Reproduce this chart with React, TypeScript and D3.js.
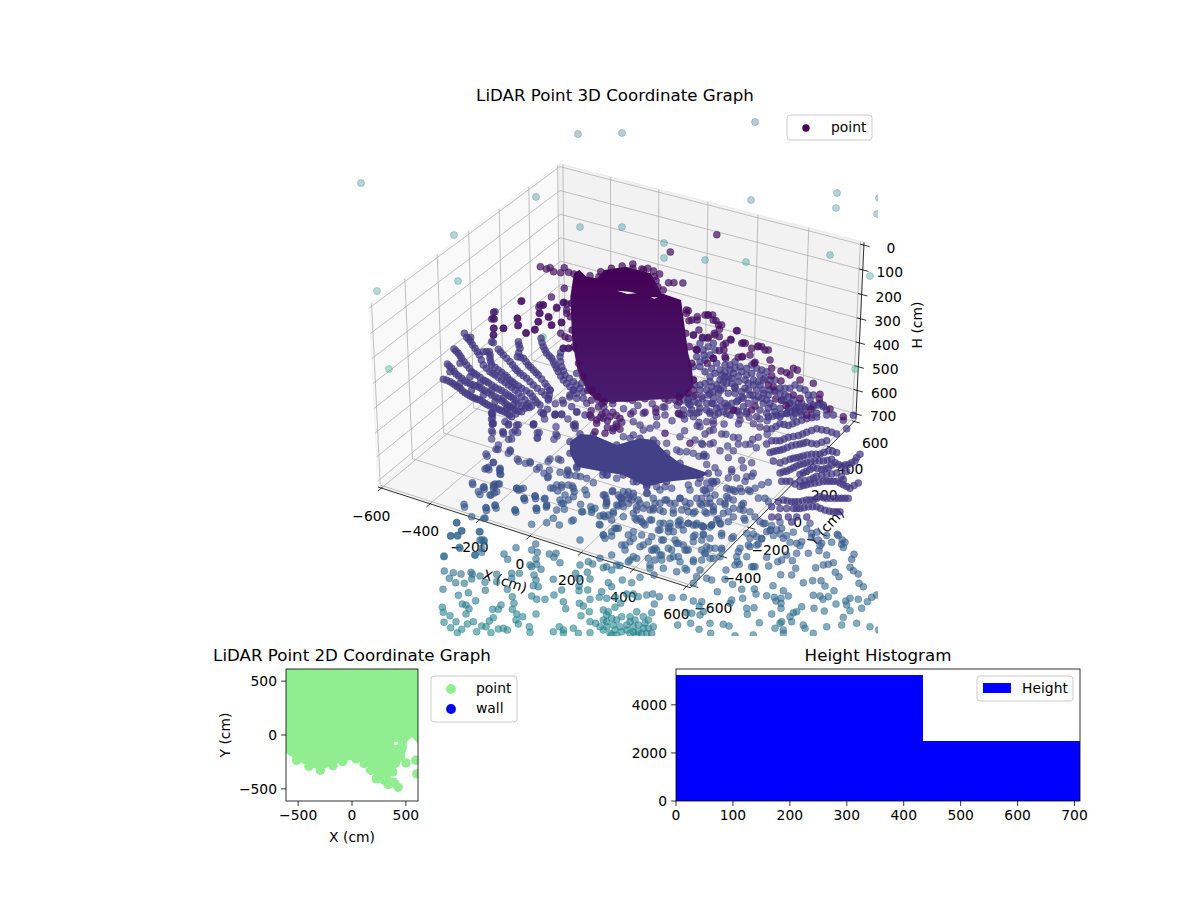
import React from "react";
import * as d3 from "d3";

// ---------- chart values ----------
const title3D = "LiDAR Point 3D Coordinate Graph";
const title2D = "LiDAR Point 2D Coordinate Graph";
const titleHist = "Height Histogram";
const xTicks3D = [-600, -400, -200, 0, 200, 400, 600];
const yTicks3D = [-600, -400, -200, 0, 200, 400, 600];
const hTicks3D = [0, 100, 200, 300, 400, 500, 600, 700];
const ticks2D = [-500, 0, 500];
const histEdges = [0, 434, 710];
const histCounts = [5240, 2495];
const histXTicks = [0, 100, 200, 300, 400, 500, 600, 700];
const histYTicks = [0, 2000, 4000];

// 2D scatter: the envelope of the plotted points (cm)
const envelope2D: [number, number][] = [[-613,613],[613,613],[613,-80],[557,-22],[511,-59],[501,-151],[465,-213],[440,-290],[400,-310],[358,-383],[390,-440],[428,-485],[336,-460],[300,-440],[226,-407],[174,-327],[113,-265],[37,-222],[-86,-247],[-177,-284],[-294,-327],[-400,-290],[-514,-235],[-613,-167]];
const lumps2D: [number, number][] = [[-514,-235],[-400,-290],[-294,-327],[-177,-284],[-86,-247],[37,-222],[113,-265],[174,-327],[226,-407],[336,-460],[428,-485],[379,-343],[501,-259],[593,-235],[602,-361],[450,-198],[465,-120],[300,-420],[390,-440]];
const gap2D: [number, number][] = [[392,-70],[425,-60],[430,-85],[395,-95]];

const farPts: [number, number][] = [[578,134],[622,133],[755,122],[361,183],[536,197],[751,200],[837,193],[836,208],[879,198],[877,214],[454,235],[580,227],[622,227],[664,243],[664,258],[705,260],[746,262],[830,255],[870,276],[377,291],[458,281],[389,369],[855,369],[543,337]];
const blobOutline: [number, number][] = [[645,590],[650,720],[665,810],[695,880],[728,906],[800,905],[860,900],[960,895],[990,860],[985,800],[975,760],[965,680],[955,600],[900,580],[870,520],[800,500],[740,510],[720,535],[690,530],[670,510],[655,520]];
const blobGaps: [number, number][][] = [[[775,572],[810,575],[830,580],[805,582]],[[870,592],[890,592],[880,596]]];
const blobEdgePts: [number, number][] = [[648,610],[645,650],[650,690],[655,740],[668,790],[680,830],[705,870],[720,890],[740,905],[970,640],[968,700],[978,740],[985,790],[990,840],[975,880],[950,890],[730,515],[760,505],[790,498],[820,505],[850,510],[880,530],[890,560]];
const blobTopPts: [number, number][] = [[1055,404],[925,456],[561,500],[588,503],[578,507],[598,515],[618,518],[628,503],[640,517],[655,522],[700,527],[725,530],[820,492],[845,507],[862,505],[878,513],[895,522],[885,542],[920,548],[935,548],[960,549],[905,570],[628,565],[592,591],[507,604],[568,615],[557,622],[558,640],[607,625],[627,607],[635,612],[585,652],[620,667],[497,655],[498,677],[555,665],[592,676],[545,690],[521,698],[458,685],[430,637],[425,657],[432,657],[430,685],[430,705],[635,640],[618,700],[630,710],[640,715],[625,745],[640,745],[660,745],[970,630],[985,660],[1000,660],[1030,645],[1045,660],[1060,675],[990,705],[1005,690],[1050,705],[1030,715],[1015,712],[1110,692],[1095,720],[1080,730],[1075,750],[1125,730],[1135,730],[1000,750],[1045,775],[1080,775],[1125,770],[1160,790],[1190,750],[1170,740]];
const leftFanPts: [number, number][] = [[40,238],[60,245],[75,255],[90,265],[105,278],[120,288],[135,295],[150,300],[165,310],[180,318],[200,325],[215,332],[232,340],[245,350],[52,192],[65,205],[78,222],[95,235],[112,248],[130,255],[148,262],[165,272],[185,285],[205,295],[225,310],[240,320],[255,330],[275,335],[72,147],[85,160],[95,175],[110,195],[125,215],[140,225],[160,240],[175,248],[195,262],[215,272],[235,285],[250,295],[265,310],[285,325],[298,323],[103,100],[110,112],[122,125],[135,145],[148,165],[160,195],[180,215],[195,225],[215,240],[235,255],[255,270],[275,290],[295,310],[160,155],[178,155],[180,175],[185,195],[205,210],[225,225],[240,240],[255,252],[275,265],[300,280],[315,300],[330,315],[205,148],[220,165],[240,185],[255,205],[270,220],[290,235],[310,255],[335,275],[355,295],[265,125],[270,145],[262,170],[280,175],[295,195],[310,210],[325,225],[345,250],[360,270],[355,300],[333,115],[340,140],[350,160],[365,175],[375,195],[385,215],[400,240],[420,260],[440,280],[400,145],[415,145],[390,170],[395,200],[405,225],[430,245],[450,265],[195,35],[190,55],[192,85],[190,105],[185,125],[190,128],[122,112],[440,220],[455,250],[420,285],[440,295],[460,295],[425,320],[440,335],[470,310],[465,345],[375,345],[395,342],[340,340],[352,328],[400,310],[185,340],[185,358],[190,370],[225,365],[260,375],[310,375],[430,375]];
const leftFanExtraPts: [number, number][] = [[50,241],[68,250],[82,260],[97,272],[112,283],[128,292],[142,298],[158,305],[172,314],[190,322],[208,329],[224,336],[238,345],[58,198],[72,214],[86,228],[104,242],[121,252],[139,258],[156,267],[175,278],[195,290],[215,302],[232,315],[248,325],[265,333],[78,153],[90,167],[102,185],[118,205],[132,220],[150,232],[167,244],[185,255],[205,267],[225,278],[242,290],[258,302],[275,318],[116,118],[128,135],[142,155],[154,180],[170,205],[188,220],[205,232],[225,247],[245,262],[265,280],[285,300],[305,318],[170,155],[180,165],[182,185],[195,202],[215,217],[232,232],[248,246],[265,258],[288,272],[308,290],[322,308],[212,156],[230,175],[248,195],[262,212],[280,227],[300,245],[322,265],[345,285],[267,135],[266,158],[271,172],[288,185],[302,202],[318,218],[335,237],[352,260],[358,285],[336,128],[345,150],[358,168],[370,185],[380,205],[392,228],[410,250],[430,270],[392,158],[392,185],[400,212],[418,235],[440,255],[460,275],[60,215],[90,250],[125,270],[160,285],[195,305],[230,325],[90,190],[120,230],[150,250],[185,270],[220,295],[250,315]];
const leftFanDarkPts: [number, number][] = [[262,55],[265,75],[220,85],[288,100],[315,88],[325,65],[365,75],[395,68],[355,50],[380,22],[330,15],[340,15],[330,40],[275,3],[400,8],[410,30]];
const rightFanUpperPts: [number, number][] = [[40,105],[68,115],[72,165],[50,170],[60,200],[75,215],[90,230],[105,220],[40,200],[40,240],[20,280],[40,290],[60,270],[80,270],[95,260],[120,240],[135,230],[150,210],[165,205],[135,195],[125,225],[175,228],[195,240],[165,265],[195,265],[215,220],[240,225],[260,215],[185,215],[205,250],[230,270],[250,270],[210,285],[235,290],[265,285],[205,310],[250,310],[280,320],[300,325],[330,310],[350,325],[145,280],[120,300],[95,310],[60,325],[30,340],[115,340],[170,305],[140,320],[180,345],[305,300],[315,285],[345,340],[300,350],[260,340],[230,350],[80,330],[50,340],[10,330],[25,310],[200,335],[365,310],[390,300],[410,340],[440,345],[430,320],[30,315],[45,305],[65,290],[85,285],[100,275],[110,255],[130,245],[145,230],[160,220],[175,245],[155,250],[130,265],[115,280],[100,295],[80,310],[55,310],[35,330],[165,280],[185,275],[205,270],[220,255],[235,245],[250,240],[190,295],[175,300],[155,310],[135,310],[110,325],[90,335],[225,300],[245,295],[260,300],[270,310],[190,320],[175,335],[150,345],[130,335],[240,330],[265,325],[285,335],[310,300],[325,290],[340,300],[355,310],[375,320],[400,320],[420,310],[440,330],[460,345],[320,340],[340,350],[365,345],[395,345],[60,130],[50,150],[70,150],[85,140],[100,130],[60,185],[75,180],[90,165],[105,150],[110,190],[95,205],[120,210],[135,215],[150,195],[165,185],[180,200],[200,205],[215,195],[230,205],[245,210],[255,235],[270,240],[285,240],[300,265],[315,265],[330,265],[345,255],[360,265],[375,270],[385,285],[400,285],[300,280],[285,275],[270,270],[240,255],[220,240],[200,225],[155,235],[140,250],[115,265],[90,245],[75,250],[60,255],[45,255],[25,295],[10,300],[5,345],[360,335],[345,320],[325,325]];
const rightFanDarkPts: [number, number][] = [[25,32],[27,62],[52,50],[75,45],[85,45],[98,45],[108,62],[125,75],[118,88],[103,100],[85,112],[118,110],[152,118],[130,135],[118,152],[48,148],[82,190],[100,175],[135,170],[175,172],[190,128],[172,92],[188,170],[225,187],[265,150],[245,140],[235,138],[215,145],[210,165],[270,180],[275,205],[303,213],[320,218],[275,227],[340,205],[352,210],[330,225],[303,243],[360,240],[265,255],[280,260],[287,297],[400,250],[340,285],[420,283],[360,295],[418,297],[450,327],[318,317],[225,318],[215,330],[160,330],[393,327],[490,350],[380,345]];
const rightFanLowerPts: [number, number][] = [[480,160],[465,180],[445,190],[425,195],[405,185],[385,200],[365,205],[340,200],[320,210],[300,220],[475,245],[450,260],[430,250],[410,240],[390,240],[370,240],[345,245],[320,250],[300,255],[270,240],[245,240],[445,290],[425,290],[405,290],[380,290],[360,285],[340,295],[320,295],[295,300],[275,300],[250,295],[235,300],[215,315],[420,330],[400,330],[375,325],[350,315],[325,315],[300,320],[280,320],[240,320],[265,345],[235,345],[215,345],[275,360],[320,345],[290,345],[430,235],[440,210],[410,215],[380,220],[350,225],[330,235],[300,240],[395,175],[370,180],[345,180],[320,185],[300,190],[280,200],[260,210],[240,215],[410,155],[385,150],[360,160],[335,160],[310,165],[290,170],[270,175],[240,185],[220,180],[380,120],[350,130],[320,125],[300,130],[275,135],[250,145],[230,150],[210,155],[200,130],[440,85],[410,100],[380,90],[350,85],[320,95],[295,105],[265,110],[240,120],[215,120],[350,50],[320,55],[290,65],[265,75],[240,70],[215,85],[200,85],[370,15],[340,15],[315,25],[285,30],[260,40],[230,45],[205,50],[430,60],[460,45],[470,170],[455,185],[435,192],[415,190],[395,192],[375,203],[352,202],[330,205],[310,215],[462,252],[440,255],[420,245],[400,240],[380,240],[357,243],[332,247],[310,252],[285,248],[258,240],[435,290],[415,290],[392,290],[370,288],[350,290],[330,295],[308,298],[285,300],[262,298],[410,330],[388,328],[362,320],[338,315],[312,318],[290,320],[260,320],[425,225],[395,218],[365,222],[340,230],[315,238],[382,178],[358,180],[332,182],[310,188],[290,195],[270,205],[250,212],[398,152],[372,155],[348,160],[322,162],[300,168],[280,172],[255,180],[365,125],[335,128],[310,128],[288,132],[262,140],[240,148],[220,152],[395,95],[365,88],[335,90],[308,100],[280,108],[252,115],[228,120],[335,52],[305,60],[278,70],[252,72],[228,78],[355,15],[328,20],[300,28],[272,35],[245,42],[218,48]];
const rightFloorPts: [number, number][] = [[185,250],[205,243],[155,225],[130,200],[155,185],[125,178],[100,110],[65,100],[115,130],[80,40],[100,30],[60,20],[55,215],[95,205],[105,270],[125,270],[150,270],[90,265],[80,285],[75,310],[100,295],[125,310],[130,325],[35,240],[20,245],[10,165],[50,240],[135,355],[65,400],[30,375],[5,370],[10,395],[190,365],[215,370],[240,395],[160,395],[185,410],[210,385],[300,430],[335,405],[360,430],[415,400],[435,420],[430,435],[120,60],[140,40],[160,70],[30,40],[40,70],[15,100],[30,130],[60,150],[85,170],[100,150],[150,130],[175,110],[180,80],[20,190],[45,200],[85,230],[110,230],[135,240],[165,260],[60,300],[40,330],[85,330],[100,345],[150,330],[165,345],[55,350],[15,330],[5,290],[20,275],[175,290],[195,290],[205,300],[240,360],[220,400],[260,400],[280,390],[270,420],[320,380],[350,390],[380,400],[395,420]];
const midBlob: [number, number][] = [[270,95],[300,72],[340,75],[410,105],[480,85],[520,90],[560,130],[600,160],[685,190],[660,205],[560,215],[500,230],[470,215],[430,195],[370,185],[290,170],[270,130]];
const midFloorPts: [number, number][] = [[35,8],[37,22],[37,42],[35,62],[68,65],[70,72],[35,87],[95,87],[55,105],[48,118],[90,120],[85,130],[18,132],[40,157],[25,172],[15,177],[60,178],[62,193],[112,148],[137,160],[150,155],[210,147],[235,147],[178,172],[170,178],[208,181],[192,190],[203,203],[240,187],[263,180],[260,195],[288,197],[320,205],[340,218],[265,225],[230,225],[212,234],[233,243],[245,232],[283,245],[277,228],[315,240],[320,254],[255,255],[240,270],[265,270],[245,280],[253,298],[200,287],[165,258],[193,267],[168,295],[105,300],[132,265],[110,235],[122,238],[45,222],[55,222],[40,235],[33,255],[10,232],[18,293],[45,287],[12,325],[302,283],[308,305],[332,290],[345,295],[335,307],[375,255],[380,275],[378,287],[415,288],[420,262],[397,245],[360,318],[275,333],[220,325],[200,338],[238,345],[155,343],[358,343],[385,315],[400,310],[430,245],[445,245],[460,260],[425,270],[445,265],[470,290],[500,250],[520,300],[465,325],[490,340],[430,320],[500,285],[520,265],[540,240],[560,270],[580,300],[540,300],[600,265],[620,290],[640,310],[660,280],[690,265],[700,290],[630,240],[670,240],[700,215],[650,340],[600,330],[570,340],[510,330],[540,340],[710,330],[190,12],[225,14],[245,14],[285,42],[285,55],[160,42],[115,45],[105,62],[85,45],[172,68],[172,85],[228,50],[228,72],[222,88],[460,35],[480,45],[460,75],[430,80],[450,85],[490,60],[510,55],[530,45],[560,100],[530,100],[600,80],[645,90],[665,100],[600,125],[672,133],[640,130],[620,125],[590,120],[660,50],[680,35],[640,20],[610,15],[555,15],[530,20],[490,10],[460,5],[700,60],[705,15]];
const midFloorDarkPts: [number, number][] = [[330,15],[350,30],[370,25],[390,20],[350,40],[420,25],[410,50],[400,55],[375,70],[345,65],[595,10],[630,100],[555,70]];
const denseFloorPts: [number, number][] = [[10,75],[18,85],[20,100],[38,62],[55,75],[65,85],[50,105],[65,100],[70,110],[85,100],[95,90],[80,75],[100,70],[115,90],[120,100],[130,115],[110,120],[100,130],[120,145],[110,150],[125,155],[135,165],[155,150],[150,120],[160,115],[142,70],[165,100],[180,100],[195,90],[210,100],[225,100],[240,85],[255,95],[270,100],[290,85],[305,105],[320,100],[330,100],[345,75],[315,60],[330,55],[340,40],[295,40],[265,45],[215,55],[195,50],[170,50],[140,45],[100,35],[50,25],[20,15],[8,15],[380,55],[400,60],[420,55],[445,60],[460,10],[440,20],[395,5],[385,85],[375,100],[400,115],[430,100],[420,118],[370,130],[340,120],[320,130],[285,125],[265,125],[245,120],[220,130],[190,125],[190,160],[210,170],[235,155],[245,165],[265,160],[288,165],[310,170],[335,165],[360,160],[385,155],[432,145],[365,190],[310,195],[285,195],[250,180],[205,185],[175,180],[155,200],[125,195],[100,185],[100,205],[85,195],[90,215],[75,225],[75,240],[65,225],[45,175],[35,185],[55,175],[10,195],[15,205],[35,198],[40,125],[35,150],[10,135],[185,210],[165,235],[145,215],[130,225],[120,230],[160,240],[170,240],[205,235],[215,240],[225,210],[235,220],[255,240],[265,240],[280,215],[280,200],[305,210],[330,205],[305,240],[315,250],[345,235],[365,240],[395,205],[440,190],[450,205],[470,200],[445,225],[470,225],[420,235],[185,255],[185,270],[145,265],[110,265],[100,260],[85,275],[35,255],[150,285],[220,260],[235,260],[240,275],[280,275],[305,270],[330,265],[360,260],[410,260],[440,260],[460,290],[405,285],[255,295],[190,295],[150,295],[50,285],[20,290],[0,265],[15,140]];
const frontLeftPts: [number, number][] = [[80,8],[62,47],[82,46],[95,33],[150,35],[155,60],[162,65],[90,85],[135,105],[155,97],[42,108],[222,102],[233,118],[258,83],[317,72],[305,90],[322,97],[318,117],[320,133],[300,135],[333,148],[305,140],[358,102],[372,112],[378,100],[390,128],[475,125],[450,135],[488,132],[520,143],[545,150],[570,137],[600,120],[43,153],[70,158],[93,162],[123,157],[127,163],[150,168],[58,175],[77,188],[103,190],[125,177],[200,163],[245,160],[268,160],[200,185],[245,175],[312,165],[318,180],[310,197],[325,200],[165,187],[232,208],[166,211],[39,208],[85,226],[137,242],[115,218],[305,228],[320,238],[345,238],[247,230],[372,225],[370,178],[395,210],[437,160],[445,175],[480,177],[472,157],[447,198],[447,212],[473,210],[535,188],[545,200],[605,188],[630,172],[577,180],[515,215],[508,232],[530,235],[556,232],[590,222],[610,222],[625,230],[650,225],[480,238],[448,250],[460,258],[400,245],[407,266],[478,275],[453,287],[37,262],[40,277],[97,252],[108,255],[117,266],[108,282],[60,287],[42,307],[78,305],[130,305],[112,312],[62,323],[95,328],[82,338],[155,318],[168,320],[178,303],[190,293],[188,268],[205,268],[213,255],[247,268],[252,250],[260,282],[278,290],[258,300],[265,312],[318,282],[298,320],[300,337],[205,327],[220,325],[232,330],[183,338],[140,335],[370,335],[388,320],[400,330],[430,325],[445,340],[480,305],[497,310],[520,270],[535,275],[555,262],[572,250],[620,275],[600,290],[640,290],[520,300],[530,320],[550,315],[570,320],[600,305],[610,320],[640,325],[520,330],[480,338],[400,340],[540,340],[600,340],[625,335],[655,300],[530,285],[545,295],[560,300],[575,290],[590,315],[615,300],[625,315],[645,310],[655,325],[530,305],[510,320],[555,330],[575,335],[590,330],[610,335],[635,340],[650,340],[620,345],[560,345],[545,345]];
const frontRightPts: [number, number][] = [[562,43],[577,60],[575,73],[530,105],[507,92],[475,100],[612,103],[605,118],[600,142],[610,152],[625,162],[497,143],[520,135],[535,133],[550,128],[556,157],[567,170],[437,145],[425,165],[392,164],[460,188],[488,182],[513,182],[525,198],[552,212],[627,190],[640,200],[490,226],[510,228],[519,238],[535,230],[558,252],[587,243],[600,235],[625,238],[652,245],[665,232],[680,225],[590,255],[600,272],[635,265],[492,265],[523,273],[455,260],[430,278],[440,275],[420,290],[425,305],[395,305],[390,310],[400,330],[375,325],[365,282],[328,308],[290,265],[292,283],[312,263],[245,240],[278,235],[240,250],[350,227],[373,232],[393,235],[415,228],[378,243],[393,265],[393,250],[369,197],[400,212],[362,30],[265,95],[262,125],[268,133],[305,140],[315,140],[356,138],[350,112],[383,125],[395,120],[410,105],[440,100],[427,122],[228,150],[225,178],[248,193],[275,208],[313,207],[318,222],[202,215],[130,243],[155,245],[148,258],[100,232],[66,233],[28,230],[8,222],[13,252],[5,278],[110,278],[125,280],[150,285],[160,275],[122,310],[83,315],[180,310],[220,313],[237,318],[147,328],[182,340],[460,315],[465,325],[530,320],[575,315],[580,292],[620,310],[490,340],[660,320],[686,330],[400,340],[310,345],[255,347],[10,320],[5,340],[85,15],[55,25],[30,30],[130,15],[160,20],[185,15],[212,12],[115,10],[70,35],[40,60],[80,70],[110,90],[130,120],[60,115],[30,105],[5,90],[15,120],[170,80],[180,85],[215,85],[165,100],[190,115],[150,150],[110,150],[80,155],[12,165],[140,170],[170,175],[185,180],[130,190],[100,75],[250,50],[300,80],[325,72],[335,55],[350,35],[330,5],[380,30],[395,25],[400,55],[345,10],[440,70],[455,65],[480,10],[485,40],[515,70],[505,60]];
const backFloorPts: [number, number][] = [[900,80],[925,120],[960,115],[1000,95],[1040,70],[1080,75],[1105,90],[1040,120],[1070,130],[1000,125],[960,150],[995,135],[1030,150],[1075,160],[1110,130],[1140,110],[1170,115],[1190,120],[1110,170],[1150,175],[1190,160],[1010,190],[1040,185],[1080,195],[1130,190],[1160,200],[1000,225],[1020,225],[660,95],[635,115],[600,100],[570,115],[540,130],[655,135],[605,165],[550,170],[580,240],[615,237],[635,270],[660,260],[425,100],[425,130],[425,155],[455,155],[470,175],[480,155],[495,155],[555,155],[440,205],[410,225],[475,210],[498,240],[530,245],[415,265],[445,268],[580,285],[640,280],[670,285],[745,280],[370,308],[402,322],[390,338],[430,315],[430,333],[497,325],[347,375],[408,385],[435,378],[490,390],[515,355],[545,350],[548,385],[575,375],[700,30],[720,60],[735,80],[760,70],[790,85],[830,75],[870,70],[905,80],[940,75],[970,60],[1010,55],[1030,40],[1060,30],[1100,20],[1120,50],[1150,45],[1180,40],[1210,30],[1230,60],[1250,70],[650,30],[640,50],[620,60],[585,30],[600,70],[560,95],[520,75],[490,100],[470,130]];
const backFloorDarkPts: [number, number][] = [[725,110],[745,120],[770,130],[780,145],[720,80],[700,90],[760,95],[810,100],[850,95],[880,85],[915,60],[945,100],[815,60],[850,55],[935,60],[990,45],[700,60],[730,70],[760,60],[800,55],[840,50],[870,40],[900,40],[940,35],[710,40],[740,30],[770,40],[800,30],[830,25],[870,25],[900,20],[940,20],[960,25],[985,30],[690,30],[705,15],[730,100],[770,105],[700,110],[745,140],[760,150],[785,125],[740,95],[880,95],[905,55],[945,65]];
const cornerFloorPts: [number, number][] = [[380,25],[400,8],[420,25],[420,42],[337,68],[372,80],[400,75],[418,72],[355,95],[390,105],[410,95],[312,133],[378,143],[405,135],[335,170],[375,175],[465,150],[470,85],[490,85],[492,115],[525,108],[555,115],[530,145],[560,135],[290,188],[305,212],[272,228],[293,228],[358,215],[372,240],[360,240],[298,262],[345,285],[365,265],[252,290],[580,85],[605,75],[640,85],[640,110],[610,130],[590,150],[640,180],[665,155],[695,150],[720,195],[770,205],[730,225],[660,240]];

// reading crops: [left, top, units per pixel across, units per pixel down]
const cropTop: [number, number, number, number] = [340, 100, 2.8, 3];
const cropBottom: [number, number, number, number] = [340, 380, 2.786, 2.95];
const cropLeftFan: [number, number, number, number] = [430, 300, 3, 3];
const cropRightFan: [number, number, number, number] = [680, 300, 3, 3];
const cropRightLower: [number, number, number, number] = [700, 400, 3, 2.95];
const cropMid: [number, number, number, number] = [480, 410, 3, 3];
const cropDense: [number, number, number, number] = [600, 470, 3, 3];
const cropCorner: [number, number, number, number] = [360, 460, 3, 3];
const cropFrontLeft: [number, number, number, number] = [430, 520, 3, 3];
const cropFrontRight: [number, number, number, number] = [650, 520, 3, 3];

// shade of each ray family on the viridis ramp
const darkShade = 0.05;
const fanShade = 0.165;

const FONT = "'DejaVu Sans', sans-serif";
const INK = "#000";

function planeScales(c: [number, number, number, number]) {
  const u = d3.scaleLinear().domain([0, c[2]]).range([c[0], c[0] + 1]);
  const v = d3.scaleLinear().domain([0, c[3]]).range([c[1], c[1] + 1]);
  return (p: [number, number]): [number, number] => [u(p[0]), v(p[1])];
}

// ---------- 3D box projection (elev 30, azim -60, dist 10) ----------
const worldX = d3.scaleLinear().domain([-614, 614]).range([-0.6, 0.6]);
const worldY = d3.scaleLinear().domain([-614, 614]).range([-0.6, 0.6]);
const worldZ = d3.scaleLinear().domain([725, -12]).range([-0.35, 0.35]);
const screenU = d3.scaleLinear().domain([0, 1]).range([621.4, 621.4 + 2965]);
const screenV = d3.scaleLinear().domain([0, 1]).range([364.4, 364.4 - 2965]);
function project(x: number, y: number, h: number): [number, number] {
  const a = worldX(x), b = worldY(y), c = worldZ(h);
  const su = 0.866 * a + 0.5 * b;
  const sv = -0.25 * a + 0.433 * b + 0.866 * c;
  const d = 0.433 * a - 0.75 * b + 0.5 * c;
  const f = 1 / (10 - d);
  return [screenU(su * f), screenV(sv * f)];
}
const XL = -614, XH = 614, YL = -614, YH = 614, HB = 725, HT = -12;
const poly = (pts: [number, number][]) => d3.line()(pts)! + "Z";

const tScale = d3.scaleLinear().domain([270, 450, 640]).range([0, 0.2, 0.47]).clamp(true);
const alphaScale = d3.scaleLinear().domain([270, 640]).range([0.72, 0.58]).clamp(true);
const farT = d3.scaleLinear().domain([120, 370]).range([0.33, 0.6]);
const fmt = (n: number) => String(n).replace("-", "\u2212");

function Dots({ pts, crop, shade, shift = 0 }: { pts: [number, number][]; crop: [number, number, number, number]; shade?: number; shift?: number }) {
  const map = planeScales(crop);
  return (
    <g>
      {pts.map((p, i) => {
        const [x, y] = map(p);
        const t = shade !== undefined ? shade : tScale(y) + shift;
        const c = d3.interpolateViridis(t), a = shade !== undefined ? 0.72 : alphaScale(y);
        return <circle key={i} cx={x} cy={y} r={3.5} fill={c} fillOpacity={a} stroke={c} strokeOpacity={a * 0.6} strokeWidth={1} />;
      })}
    </g>
  );
}

function Line3D({ a, b, stroke, w }: { a: [number, number]; b: [number, number]; stroke: string; w: number }) {
  return <line x1={a[0]} y1={a[1]} x2={b[0]} y2={b[1]} stroke={stroke} strokeWidth={w} />;
}

function Text({ x, y, children, anchor = "middle", size = 13.89, rotate }: any) {
  return (
    <text x={x} y={y} textAnchor={anchor} fontFamily={FONT} fontSize={size} fill={INK} dominantBaseline="central"
      transform={rotate !== undefined ? `rotate(${rotate} ${x} ${y})` : undefined}>{children}</text>
  );
}

function Legend({ x, y, w, h }: { x: number; y: number; w: number; h: number }) {
  return <rect x={x} y={y} width={w} height={h} rx={3} fill="#fff" fillOpacity={0.8} stroke="#ccc" strokeWidth={1} />;
}

function Axes3D() {
  const grid = "#b0b0b0";
  return (
    <g>
      <path d={poly([project(XL,YL,HB),project(XL,YH,HB),project(XL,YH,HT),project(XL,YL,HT)])} fill="#f9f9f9" stroke="#f2f2f2" />
      <path d={poly([project(XL,YH,HB),project(XH,YH,HB),project(XH,YH,HT),project(XL,YH,HT)])} fill="#f2f2f2" stroke="#ebebeb" />
      <path d={poly([project(XL,YL,HB),project(XH,YL,HB),project(XH,YH,HB),project(XL,YH,HB)])} fill="#f5f5f5" stroke="#efefef" />
      {xTicks3D.map(v => <g key={v}>
        <Line3D a={project(v,YL,HB)} b={project(v,YH,HB)} stroke={grid} w={0.8} />
        <Line3D a={project(v,YH,HB)} b={project(v,YH,HT)} stroke={grid} w={0.8} />
      </g>)}
      {yTicks3D.map(v => <g key={v}>
        <Line3D a={project(XH,v,HB)} b={project(XL,v,HB)} stroke={grid} w={0.8} />
        <Line3D a={project(XL,v,HB)} b={project(XL,v,HT)} stroke={grid} w={0.8} />
      </g>)}
      {hTicks3D.map(v => <g key={v}>
        <Line3D a={project(XL,YL,v)} b={project(XL,YH,v)} stroke={grid} w={0.8} />
        <Line3D a={project(XL,YH,v)} b={project(XH,YH,v)} stroke={grid} w={0.8} />
      </g>)}
      <Line3D a={project(XL,YL,HB)} b={project(XH,YL,HB)} stroke={INK} w={0.8} />
      <Line3D a={project(XH,YL,HB)} b={project(XH,YH,HB)} stroke={INK} w={0.8} />
      <Line3D a={project(XH,YH,HB)} b={project(XH,YH,HT)} stroke={INK} w={0.8} />
      {xTicks3D.map(v => { const p = project(v,YL,HB); return <g key={v}>
        <Line3D a={project(v,YL+8,HB)} b={project(v,YL-22,HB)} stroke={INK} w={0.8} />
        <Text x={p[0]-10} y={p[1]+27.5}>{fmt(v)}</Text>
      </g>; })}
      {yTicks3D.map(v => { const p = project(XH,v,HB); return <g key={v}>
        <Line3D a={project(XH-8,v,HB)} b={project(XH+22,v,HB)} stroke={INK} w={0.8} />
        <Text x={p[0]+21} y={p[1]+22}>{fmt(v)}</Text>
      </g>; })}
      {hTicks3D.map(v => { const p = project(XH,YH,v); return <g key={v}>
        <Line3D a={project(XH-14,YH,v)} b={project(XH+22,YH,v)} stroke={INK} w={0.8} />
        <Text x={p[0]+27} y={p[1]+2.5}>{v}</Text>
      </g>; })}
      <Text x={505} y={581} rotate={18}>X (cm)</Text>
      <Text x={826} y={527} rotate={-47}>Y (cm)</Text>
      <Text x={917} y={325} rotate={-90}>H (cm)</Text>
    </g>
  );
}

function Scatter3D() {
  const mapTop = planeScales(cropTop);
  const mapMid = planeScales(cropMid);
  const outline = blobOutline.map(mapTop);
  const gaps = blobGaps.map(g => poly(g.map(mapTop))).join("");
  return (
    <g clipPath="url(#clip3d)">
      <defs>
        <linearGradient id="blobFill" x1="0" x2="0" y1="0" y2="1">
          <stop offset="0" stopColor={d3.interpolateViridis(0)} />
          <stop offset="1" stopColor={d3.interpolateViridis(0.075)} />
        </linearGradient>
      </defs>
      <Dots pts={frontLeftPts} crop={cropFrontLeft} />
      <Dots pts={frontRightPts} crop={cropFrontRight} shift={-0.07} />
      {farPts.map((p, i) => { const c = d3.interpolateViridis(farT(p[1])); return <circle key={i} cx={p[0]} cy={p[1]} r={3.5} fill={c} fillOpacity={0.34} stroke={c} strokeOpacity={0.3} strokeWidth={1} />; })}
      <Dots pts={backFloorPts} crop={cropBottom} />
      <Dots pts={cornerFloorPts} crop={cropCorner} />
      <Dots pts={midFloorPts} crop={cropMid} />
      <Dots pts={denseFloorPts} crop={cropDense} shift={-0.04} />
      <Dots pts={rightFloorPts} crop={cropRightLower} shift={-0.03} />
      <Dots pts={rightFanLowerPts} crop={cropRightLower} shade={fanShade} />
      <Dots pts={rightFanUpperPts} crop={cropRightFan} shade={fanShade} />
      <Dots pts={leftFanPts} crop={cropLeftFan} shade={fanShade} />
      <Dots pts={leftFanExtraPts} crop={cropLeftFan} shade={fanShade} />
      <path d={poly(midBlob.map(mapMid))} fill={d3.interpolateViridis(0.19)} />
      <Dots pts={midBlob} crop={cropMid} shade={0.19} />
      <Dots pts={midFloorDarkPts} crop={cropMid} shade={darkShade} />
      <Dots pts={backFloorDarkPts} crop={cropBottom} shade={darkShade + 0.03} />
      <Dots pts={rightFanDarkPts} crop={cropRightFan} shade={darkShade} />
      <Dots pts={leftFanDarkPts} crop={cropLeftFan} shade={darkShade} />
      <Dots pts={blobTopPts} crop={cropTop} shade={darkShade} />
      <path d={poly(outline) + gaps} fill="url(#blobFill)" fillRule="evenodd" />
      <Dots pts={blobEdgePts} crop={cropTop} shade={0.03} />
    </g>
  );
}

function Scatter2D() {
  const x = d3.scaleLinear().domain([-613, 613]).range([286, 418]);
  const y = d3.scaleLinear().domain([-613, 613]).range([801, 669]);
  const toPx = (p: [number, number]): [number, number] => [x(p[0]), y(p[1])];
  return (
    <g>
      <g clipPath="url(#clip2d)">
        <path d={poly(envelope2D.map(toPx)) + poly(gap2D.map(toPx))} fill="#90ee90" fillRule="evenodd" />
        {lumps2D.map((p, i) => <circle key={i} cx={x(p[0])} cy={y(p[1])} r={4.7} fill="#90ee90" />)}
      </g>
      <rect x={286} y={669} width={132} height={132} fill="none" stroke={INK} strokeWidth={0.8} />
      {ticks2D.map(v => <g key={v}>
        <line x1={x(v)} x2={x(v)} y1={801} y2={805.9} stroke={INK} strokeWidth={0.8} />
        <Text x={x(v)} y={815}>{fmt(v)}</Text>
        <line x1={286} x2={281.1} y1={y(v)} y2={y(v)} stroke={INK} strokeWidth={0.8} />
        <Text x={277} y={y(v)} anchor="end">{fmt(v)}</Text>
      </g>)}
      <Text x={352} y={837}>X (cm)</Text>
      <Text x={225} y={735} rotate={-90}>Y (cm)</Text>
      <Text x={352} y={655} size={16.67}>{title2D}</Text>
      <Legend x={431} y={676} w={86} h={46} />
      <circle cx={451} cy={689} r={4.9} fill="#90ee90" />
      <circle cx={451} cy={709} r={4.9} fill="#0000ff" />
      <Text x={476} y={688} anchor="start">point</Text>
      <Text x={476} y={708} anchor="start">wall</Text>
    </g>
  );
}

function Histogram() {
  const x = d3.scaleLinear().domain([0, 709.6]).range([676, 1080]);
  const y = d3.scaleLinear().domain([0, 5490]).range([801, 669]);
  return (
    <g>
      {histCounts.map((c, i) => <rect key={i} x={x(histEdges[i])} y={y(c)} width={x(Math.min(histEdges[i + 1], 709.6)) - x(histEdges[i])} height={801 - y(c)} fill="#0000ff" shapeRendering="crispEdges" />)}
      <rect x={676} y={669} width={404} height={132} fill="none" stroke={INK} strokeWidth={0.8} />
      {histXTicks.map(v => <g key={v}>
        <line x1={x(v)} x2={x(v)} y1={801} y2={805.9} stroke={INK} strokeWidth={0.8} />
        <Text x={x(v)} y={815}>{v}</Text>
      </g>)}
      {histYTicks.map(v => <g key={v}>
        <line x1={676} x2={671.1} y1={y(v)} y2={y(v)} stroke={INK} strokeWidth={0.8} />
        <Text x={667} y={y(v)} anchor="end">{v}</Text>
      </g>)}
      <Text x={878} y={655} size={16.67}>{titleHist}</Text>
      <Legend x={977} y={676} w={96} h={25} />
      <rect x={983} y={683} width={28} height={10} fill="#0000ff" />
      <Text x={1022} y={688} anchor="start">Height</Text>
    </g>
  );
}

export default function App() {
  return (
    <svg width={1200} height={900} viewBox="0 0 1200 900" style={{ position: "absolute", left: 0, top: 0, background: "#fff" }}>
      <defs>
        <clipPath id="clip3d"><rect x={354} y={108} width={524} height={528} /></clipPath>
        <clipPath id="clip2d"><rect x={286} y={669} width={132} height={132} /></clipPath>
      </defs>
      <Axes3D />
      <Scatter3D />
      <Text x={615} y={95} size={16.67}>{title3D}</Text>
      <Legend x={787} y={115} w={85} h={25} />
      <circle cx={806} cy={128} r={3.7} fill="#440154" />
      <Text x={831} y={127} anchor="start">point</Text>
      <Scatter2D />
      <Histogram />
    </svg>
  );
}
